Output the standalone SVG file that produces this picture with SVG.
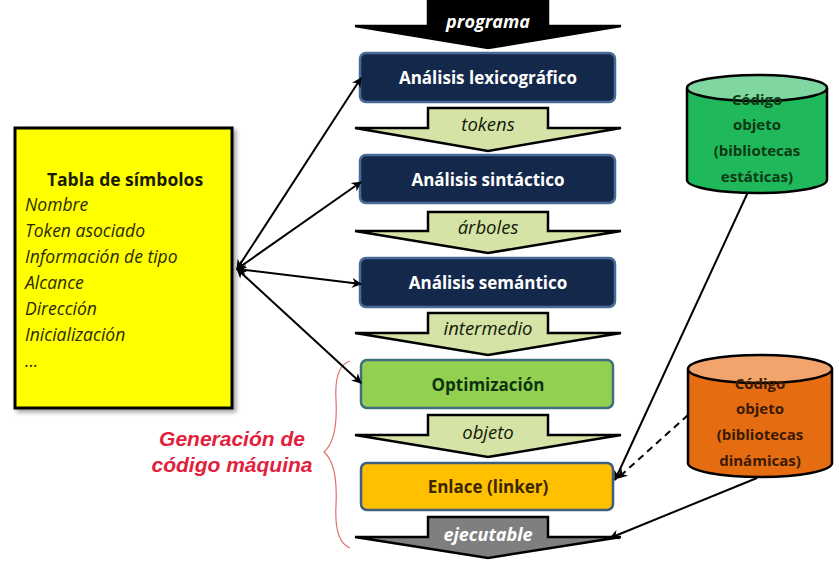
<svg xmlns="http://www.w3.org/2000/svg" width="839" height="566" viewBox="0 0 839 566">
<style>
.box{stroke-width:2.5}
.blue{fill:#14284b;stroke:#4a6b96}
.btxt{font-family:"Open Sans","Liberation Sans",sans-serif;font-weight:bold;font-size:17px;fill:#ffffff;text-anchor:middle}
.arr{stroke:#000;stroke-width:2.5;stroke-linejoin:miter}
.green-arr{fill:#d6e3a6}
.atxt{font-family:"Open Sans","Liberation Sans",sans-serif;font-style:italic;font-size:18.5px;fill:#111a08;text-anchor:middle}
.wtxt{font-family:"Open Sans","Liberation Sans",sans-serif;font-style:italic;font-weight:bold;font-size:18px;fill:#ffffff;text-anchor:middle}
.tab{font-family:"Open Sans","Liberation Sans",sans-serif;font-style:italic;font-size:17.5px;fill:#2a2a00}
.conn{stroke:#000;stroke-width:2;fill:none}
.cyl{font-family:"Open Sans","Liberation Sans",sans-serif;font-weight:bold;font-size:15px;text-anchor:middle}
.red{font-family:"Liberation Sans",Arial,sans-serif;font-style:italic;font-weight:bold;font-size:21px;fill:#e3203c;text-anchor:middle}
</style>
<defs>
<marker id="ah" viewBox="0 0 10 10" refX="9" refY="5" markerWidth="5" markerHeight="5" orient="auto-start-reverse">
<path d="M0,0 L10,5 L0,10 L3,5 z" fill="#000"/>
</marker>
<filter id="sh" x="-10%" y="-10%" width="130%" height="130%">
<feDropShadow dx="3" dy="3" stdDeviation="2" flood-color="#000" flood-opacity="0.35"/>
</filter>
</defs>
<rect width="839" height="566" fill="#ffffff"/>

<g id="arrow-programa">
<polygon class="arr" fill="#000" points="428,-2 548,-2 548,26 621,26 488,48 355,26 428,26"/>
<text class="wtxt" x="488" y="28">programa</text>
</g>
<g id="lexico">
<rect class="box blue" x="360" y="53" width="255" height="49" rx="6"/>
<text class="btxt" x="488" y="84">Análisis lexicográfico</text>
</g>
<g id="arrow-tokens">
<polygon class="arr green-arr" points="428,108 548,108 548,128 621,128 488,151 355,128 428,128"/>
<text class="atxt" x="488" y="131">tokens</text>
</g>
<g id="sintactico">
<rect class="box blue" x="360" y="155" width="255" height="48" rx="6"/>
<text class="btxt" x="488" y="186">Análisis sintáctico</text>
</g>
<g id="arrow-arboles">
<polygon class="arr green-arr" points="428,212 548,212 548,231 621,231 488,253 355,231 428,231"/>
<text class="atxt" x="488" y="234">árboles</text>
</g>
<g id="semantico">
<rect class="box blue" x="360" y="258" width="255" height="49" rx="6"/>
<text class="btxt" x="488" y="289">Análisis semántico</text>
</g>
<g id="arrow-intermedio">
<polygon class="arr green-arr" points="428,313 548,313 548,333 621,333 488,355 355,333 428,333"/>
<text class="atxt" x="488" y="335">intermedio</text>
</g>
<g id="optimizacion">
<rect class="box" x="361" y="360" width="252" height="48" rx="6" fill="#92d050" stroke="#3f6f7f"/>
<text class="btxt" x="488" y="391" style="fill:#0d3310">Optimización</text>
</g>
<g id="arrow-objeto">
<polygon class="arr green-arr" points="428,415 548,415 548,435 621,435 488,457 355,435 428,435"/>
<text class="atxt" x="488" y="439">objeto</text>
</g>
<g id="enlace">
<rect class="box" x="361" y="463" width="252" height="47" rx="6" fill="#ffc000" stroke="#3f5f7f"/>
<text class="btxt" x="488" y="493" style="fill:#3a2600">Enlace (linker)</text>
</g>
<g id="arrow-ejecutable">
<polygon class="arr" fill="#7f7f7f" points="428,517 548,517 548,537 621,537 488,558 355,537 428,537"/>
<text class="wtxt" x="488" y="541">ejecutable</text>
</g>

<g id="tabla">
<rect x="15" y="128" width="217" height="280" fill="#ffff00" stroke="#000" stroke-width="3" filter="url(#sh)"/>
<text x="125" y="186" font-family="Open Sans, Liberation Sans, sans-serif" font-weight="bold" font-size="17.5" fill="#1a1a00" text-anchor="middle">Tabla de símbolos</text>
<text class="tab" x="25" y="211">Nombre</text>
<text class="tab" x="25" y="237">Token asociado</text>
<text class="tab" x="25" y="263">Información de tipo</text>
<text class="tab" x="25" y="289">Alcance</text>
<text class="tab" x="25" y="315">Dirección</text>
<text class="tab" x="25" y="341">Inicialización</text>
<text class="tab" x="25" y="367">...</text>
</g>

<g id="estaticas">
<path d="M687,88 L687,180 A70,13 0 0 0 827,180 L827,88" fill="#1fb85a" stroke="#000" stroke-width="2.5"/>
<ellipse cx="757" cy="88" rx="70" ry="13" fill="#7fd6a0" stroke="#000" stroke-width="2.5"/>
<text class="cyl" x="757" y="105" fill="#0c3a14">Código</text>
<text class="cyl" x="757" y="130" fill="#0c3a14">objeto</text>
<text class="cyl" x="757" y="156" fill="#0c3a14">(bibliotecas</text>
<text class="cyl" x="757" y="182" fill="#0c3a14">estáticas)</text>
</g>

<g id="dinamicas">
<path d="M688,369 L688,463 A72,14 0 0 0 832,463 L832,369" fill="#e66c12" stroke="#000" stroke-width="2.5"/>
<ellipse cx="760" cy="369" rx="72" ry="14" fill="#f1a46c" stroke="#000" stroke-width="2.5"/>
<text class="cyl" x="760" y="389" fill="#3a1a00">Código</text>
<text class="cyl" x="760" y="414" fill="#3a1a00">objeto</text>
<text class="cyl" x="760" y="440" fill="#3a1a00">(bibliotecas</text>
<text class="cyl" x="760" y="466" fill="#3a1a00">dinámicas)</text>
</g>

<g id="generacion">
<text class="red" x="232" y="446">Generación de</text>
<text class="red" x="232" y="472">código máquina</text>
<path d="M350,361 Q334,366 336,400 Q338,440 324,452 Q338,464 336,505 Q334,542 350,548" fill="none" stroke="#e07070" stroke-width="1.2"/>
</g>

<g id="connectors">
<line class="conn" x1="237" y1="269" x2="361" y2="78" marker-start="url(#ah)" marker-end="url(#ah)"/>
<line class="conn" x1="237" y1="269" x2="361" y2="182" marker-start="url(#ah)" marker-end="url(#ah)"/>
<line class="conn" x1="237" y1="269" x2="361" y2="284" marker-start="url(#ah)" marker-end="url(#ah)"/>
<line class="conn" x1="237" y1="269" x2="361" y2="383" marker-start="url(#ah)" marker-end="url(#ah)"/>
<line class="conn" x1="748" y1="192" x2="615" y2="480" marker-end="url(#ah)"/>
<line class="conn" x1="688" y1="415" x2="618" y2="478" stroke-dasharray="7,5" marker-end="url(#ah)"/>
<line class="conn" x1="757" y1="478" x2="610" y2="538" marker-end="url(#ah)"/>
</g>
</svg>
